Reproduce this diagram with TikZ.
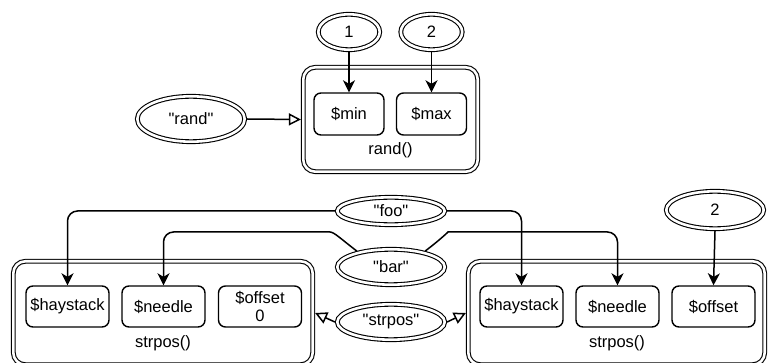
\documentclass[tikz,border=0pt]{standalone}
\usepackage{fontspec}
\setmainfont{Liberation Sans}[Ligatures=TeXOff]
\usetikzlibrary{shapes.geometric,arrows.meta}
% straight double quote glyph
\newcommand\strq{\symbol{34}}

\begin{document}
\begin{tikzpicture}[x=1pt,y=-1pt,
  font=\fontsize{16.5}{19.5}\selectfont,
  line width=1.5pt,
  lit/.style={ellipse, draw, double, double distance=2.6pt, line width=1.1pt,
    inner sep=0pt, outer sep=2.4pt, fill=white},
  fnbox/.style={rectangle, draw, double, double distance=2.6pt, line width=1.1pt,
    rounded corners=12pt, inner sep=0pt, outer sep=2.4pt},
  param/.style={rectangle, draw, line width=1.4pt, rounded corners=7pt,
    minimum width=83pt, minimum height=41pt, inner sep=0pt, align=center,
    font=\fontsize{16.5}{18.5}\selectfont},
  feed/.style={line width=1.5pt, -{Stealth[length=12pt,width=12pt,inset=3.5pt]}},
  pass/.style={line width=1.5pt, -{Triangle[open,length=12pt,width=12pt]}},
]
\useasboundingbox (0,0) rectangle (771,363);
\clip (0,0) rectangle (771,363);

% rand() call
\node[fnbox, minimum width=174.4pt, minimum height=104.4pt] (randbox) at (390.5,119.5) {};
\node[param, minimum width=70pt, minimum height=42pt] (min) at (349,114) {\$min};
\node[param, minimum width=70pt, minimum height=42pt] (max) at (431.5,114) {\$max};
\node (randlbl) at (390.5,150) {rand()};
\node[lit, minimum width=61.4pt, minimum height=35.4pt] (one) at (349,32) {1};
\node[lit, minimum width=61.4pt, minimum height=35.4pt] (two) at (431.5,32) {2};
\node[lit, minimum width=107.4pt, minimum height=45.4pt] (randname) at (191,119) {\strq rand\strq};

\draw[feed] (one.south) -- (min.north);
\draw[feed] (two.south) -- (max.north);
\draw[pass] (randname.east) -- (randbox.west);

% first strpos() call
\node[fnbox, minimum width=299.4pt, minimum height=103.4pt] (left) at (163,313) {};
\node[param] (hay1) at (67.5,306.5) {\$haystack};
\node[param] (nee1) at (163.5,306.5) {\$needle};
\node[param] (off1) at (260,306.5) {\$offset\\0};
\node (leftlbl) at (163,343) {strpos()};

% second strpos() call
\node[fnbox, minimum width=296.4pt, minimum height=103.4pt] (right) at (616.5,313) {};
\node[param] (hay2) at (521.5,306.5) {\$haystack};
\node[param] (nee2) at (617.5,306.5) {\$needle};
\node[param] (off2) at (713.5,306.5) {\$offset};
\node (rightlbl) at (617,343) {strpos()};

% shared literals
\node[lit, minimum width=107.4pt, minimum height=27.4pt] (foo) at (391,211) {\strq foo\strq};
\node[lit, minimum width=107.4pt, minimum height=35.4pt] (bar) at (391,267) {\strq bar\strq};
\node[lit, minimum width=107.4pt, minimum height=35.4pt] (fname) at (391,322) {\strq strpos\strq};
\node[lit, minimum width=97.4pt, minimum height=37.4pt] (two2) at (715,210) {2};

\coordinate (barwL) at (320,232);
\coordinate (barwR) at (458,232);

\draw[feed, rounded corners=10pt] (foo.west) -| (hay1.north);
\draw[feed, rounded corners=10pt] (foo.east) -| (hay2.north);
\draw[feed, rounded corners=10pt] (bar.155) .. controls (341,239) and (334,232) .. (barwL) -| (nee1.north);
\draw[feed, rounded corners=10pt] (bar.25) .. controls (441,239) and (448,232) .. (barwR) -| (nee2.north);
\draw[feed] (two2.south) -- (off2.north);
\draw[pass] (fname.west) -- (left.east);
\draw[pass] (fname.east) -- (right.west);
\end{tikzpicture}
\end{document}
